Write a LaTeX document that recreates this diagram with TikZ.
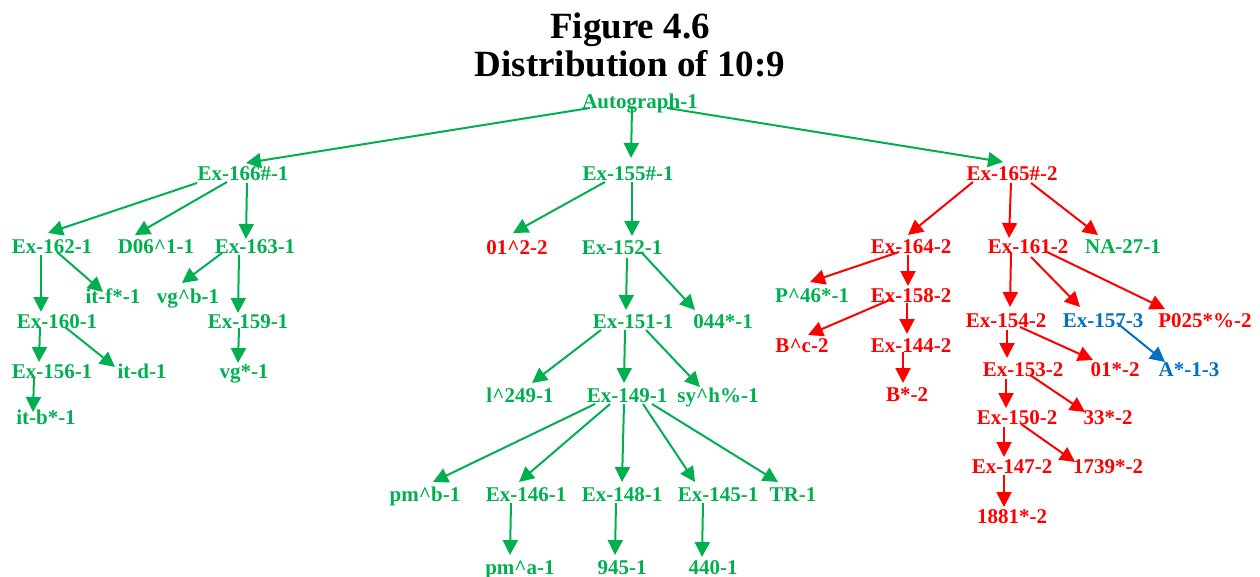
\documentclass[tikz,border=0pt]{standalone}
\usepackage{fontspec}
\setmainfont{Liberation Serif}
\usetikzlibrary{arrows.meta}
\definecolor{gr}{HTML}{00B050}
\definecolor{rd}{HTML}{FF0000}
\definecolor{bl}{HTML}{0070C0}
\tikzset{
  lbl/.style={inner sep=0pt, text height=13.9pt, text depth=0pt, font=\fontsize{21}{24}\selectfont\bfseries},
  ttl/.style={inner sep=0pt, text height=24.4pt, text depth=0pt, font=\fontsize{37}{40}\selectfont\bfseries},
  arr/.style={line width=2pt, -{Triangle[length=15pt,width=15pt]}}
}
\begin{document}
\begin{tikzpicture}[x=1pt,y=-1pt]
\useasboundingbox (0,0) rectangle (1260,577);
\node[ttl] (t1) at (630,26) {Figure 4.6};
\node[ttl] (t2) at (630,64.5) {Distribution of 10:9};
\foreach \n/\x/\y/\c/\t in {
 auto/640/101.5/gr/Autograph-1,
 n166/243/174/gr/Ex-166\#-1, n155/628/174/gr/Ex-155\#-1, n165/1012/174/rd/Ex-165\#-2,
 n162/52/247/gr/Ex-162-1, nD06/156/247/gr/D06\^{}1-1, n163/255/247/gr/Ex-163-1,
 nitf/113/297/gr/it-f*-1, nvgb/188/297/gr/vg\^{}b-1,
 n160/57/322/gr/Ex-160-1, n159/248/322/gr/Ex-159-1,
 n156/52/372/gr/Ex-156-1, nitd/142/372/gr/it-d-1, nvg/244/372/gr/vg*-1,
 nitb/46/418/gr/it-b*-1,
 n012/517/248/rd/01\^{}2-2, n152/622/248/gr/Ex-152-1,
 n151/633/322/gr/Ex-151-1, n044/723/322/gr/044*-1,
 nl249/520/396/gr/l\^{}249-1, n149/627/396/gr/Ex-149-1, nsyh/718/396/gr/sy\^{}h\%-1,
 npmb/425/495/gr/pm\^{}b-1, n146/526/495/gr/Ex-146-1, n148/622/495/gr/Ex-148-1,
 n145/718/495/gr/Ex-145-1, nTR/793/495/gr/TR-1,
 npma/520/568/gr/pm\^{}a-1, n945/622/568/gr/945-1, n440/713/568/gr/440-1,
 n164/911/247/rd/Ex-164-2, n161/1028/247/rd/Ex-161-2, nNA/1123/247/gr/NA-27-1,
 nP46/812/296/gr/P\^{}46*-1, n158/911/296/rd/Ex-158-2,
 nBc/802/346/rd/B\^{}c-2, n144/911/346/rd/Ex-144-2, nBs/907/395/rd/B*-2,
 n154/1006/321/rd/Ex-154-2, n157/1103/321/bl/Ex-157-3, nP025/1205/321/rd/P025*\%-2,
 n153/1023/370/rd/Ex-153-2, n01s/1115/370/rd/01*-2, nA/1189/370/bl/A*-1-3,
 n150/1017/418/rd/Ex-150-2, n33/1108/418/rd/33*-2,
 n147/1012/467/rd/Ex-147-2, n1739/1108/467/rd/1739*-2,
 n1881/1012/517/rd/1881*-2}
 \node[lbl, text=\c] (\n) at (\x,\y) {\t};
\foreach \a/\ax/\ay/\b/\bx/\by/\c in {
 auto/-50/6.5/n166/3/-11/gr, auto/-8/6.5/n155/3/-16/gr, auto/27/6.5/n165/-9/-12/gr,
 n166/-46/9/n162/-4/-14/gr, n166/-16/8/nD06/-21/-12/gr, n166/4/9/n163/-9/-8/gr,
 n162/5/5/nitf/-10/-5/gr, n162/-11/8/n160/-16/-10/gr,
 n163/-33/6/nvgb/-6/-14/gr, n163/-16/8/n159/-10/-9/gr,
 n160/-17/5/n156/-13/-10/gr, n160/8/5/nitd/-27/-5/gr,
 n159/-9/6/nvg/-6/-9/gr, n156/-18/5/nitb/-13/-6/gr,
 n155/-23/8/n012/-4/-15/gr, n155/4/8/n152/10/-12/gr,
 n152/5/10/n151/-7/-12/gr, n152/20/5/n044/-28/-12/gr,
 n151/-32/8/nl249/12/-13/gr, n151/-8/8/n149/-3/-13/gr, n151/13/8/nsyh/-18/-9/gr,
 n149/-32/8/npmb/8/-13/gr, n149/-17/8/n146/-7/-13/gr, n149/-3/8/n148/0/-13/gr,
 n149/16/8/n145/-23/-13/gr, n149/25/8/nTR/-15/-13/gr,
 n146/-15/8/npma/-10/-13/gr, n148/-6/8/n945/-7/-13/gr, n145/-15/8/n440/-11/-11/gr,
 n165/-39/8/n164/-3/-12/rd, n165/-1/9/n161/-19/-9/rd, n165/19/9/nNA/-25/-12/rd,
 n164/-12/5/nP46/-2/-14/rd, n164/-3/8/n158/-3/-10/rd,
 n158/-19/3/nBc/6/-11/rd, n158/-4/7/n144/-4/-12/rd, n144/-8/6/nBs/-4/-12/rd,
 n161/-17/6/n154/4/-14/rd, n161/3/10/n157/-23/-14/rd, n161/19/5/nP025/-40/-12/rd,
 n157/14/2/nA/-24/-8/bl,
 n154/1/9/n153/-16/-12/rd, n154/14/6/n01s/-22/-10/rd,
 n153/-17/9/n150/-11/-10/rd, n153/7/5/n33/-23/-6/rd,
 n150/-13/9/n147/-8/-10/rd, n150/4/6/n1739/-33/-5/rd,
 n147/-8/8/n1881/-8/-10/rd}
 \draw[arr, draw=\c, fill=\c] ([shift={(\ax,\ay)}]\a.center) -- ([shift={(\bx,\by)}]\b.center);
\end{tikzpicture}
\end{document}
